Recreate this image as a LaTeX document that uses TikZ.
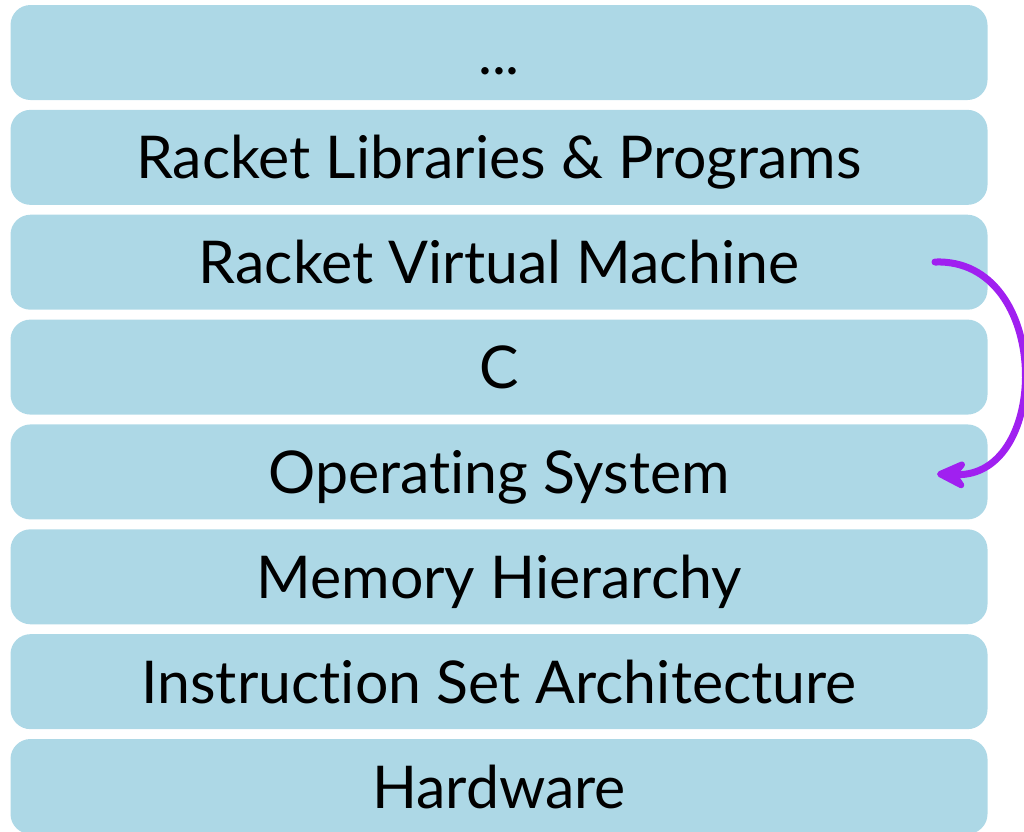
\documentclass[tikz,border=0pt]{standalone}
\usepackage{fontspec}
\setmainfont{Lato}[Ligatures=NoCommon]
\usetikzlibrary{arrows.meta}
\definecolor{layerblue}{HTML}{ADD8E6}
\definecolor{arrowpurple}{HTML}{A020F0}
\begin{document}
\begin{tikzpicture}[x=1pt,y=-1pt,
  layer/.style={fill=layerblue,draw=none,rounded corners=20pt},
  lbl/.style={anchor=base,inner sep=0pt,font=\fontsize{59}{61}\selectfont},
  flow/.style={draw=arrowpurple,line width=7pt,line cap=round,
    -{Stealth[length=38pt,width=36pt,inset=13pt,round]}}]
\useasboundingbox (0,0) rectangle (1024,831);
\begin{scope}
\clip (0,0) rectangle (1024,831);
\foreach \i/\t in {0/{...},1/{Racket Libraries \& Programs},2/{Racket Virtual Machine},3/{C},4/{Operating System},5/{Memory Hierarchy},6/{Instruction Set Architecture},7/{Hardware}}{
  \pgfmathsetmacro{\top}{5+104.857*\i}
  \fill[layer] (10.5,\top) rectangle (987.5,\top+95);
  \node[lbl] (t\i) at (499,\top+47.5+21.5) {\t};
}
\coordinate (a) at (935,262);
\coordinate (b) at (937,474);
\draw[flow] (a) .. controls (1052,258) and (1052,478) .. (b);
\end{scope}
\end{tikzpicture}
\end{document}
